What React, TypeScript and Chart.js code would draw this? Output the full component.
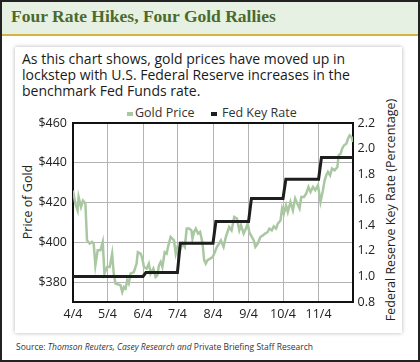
import React, { useEffect, useRef } from 'react';
import { Chart, registerables } from 'chart.js';
Chart.register(...registerables);

const xTickDays = [0, 30, 61, 91, 122, 153, 183, 214, 244];
const xTickLabels = ['4/4', '5/4', '6/4', '7/4', '8/4', '9/4', '10/4', '11/4', ''];
const goldTicks = [380, 400, 420, 440, 460];
const rateTicks = [0.8, 1.0, 1.2, 1.4, 1.6, 1.8, 2.0, 2.2];
// monthly Fed key rate, one value per month between consecutive x ticks
const rateValues = [1.0, 1.0, 1.03, 1.26, 1.43, 1.61, 1.76, 1.93];

const goldDays = [0, 2, 4, 4.9, 7, 8.7, 10.8, 12.2, 14.5, 16.6, 18, 19.5, 21.5, 23.9, 25.9, 27.4, 29.7, 32, 34.1, 35.5, 37, 41.4, 42.9, 44.3, 45.8, 47.2, 48.6, 50.1, 53, 55.4, 56.5, 58.9, 60.4, 61.8, 64.1, 66.1, 67.6, 70, 72, 73.5, 74.9, 76.4, 77.9, 79.9, 81.6, 82.8, 85.1, 88, 89.5, 91, 93.3, 95.4, 97.4, 99.1, 101.1, 103.2, 104.1, 105.5, 107, 109, 110.8, 112.9, 114.3, 115.7, 117.2, 119.5, 121.6, 123, 125.4, 127.4, 128.9, 131.2, 133.2, 136.1, 138.2, 140.5, 142.9, 144.9, 146.4, 148.7, 150.7, 152.2, 153.6, 155.1, 157.5, 158.9, 161, 163.3, 165.4, 167.4, 169.7, 171.1, 173.2, 175, 177, 178.5, 180.8, 182.2, 183.7, 185.7, 187.2, 189.5, 191.6, 193.6, 195.4, 197.4, 198.9, 201.2, 203.2, 205.2, 207, 209.1, 211.1, 213.5, 215.7, 217.8, 219.3, 220.7, 222.2, 224, 225.7, 228, 230.4, 231.5, 233.3, 234.5, 236.2, 238.2, 239.7, 241.1, 242.6, 244];
const goldPrices = [426, 419.5, 416, 422.8, 417.8, 421, 419.5, 401, 399.4, 400.2, 399.4, 388.4, 396, 396, 400.2, 384.3, 387.6, 387.6, 394.3, 384.3, 379.3, 378.4, 375, 377.5, 376.7, 380.9, 379.3, 384.3, 385, 389.3, 395, 394.3, 391.8, 387.6, 386.8, 389.3, 384.3, 386.8, 382.6, 383.4, 388.4, 390.1, 387.6, 395, 394.3, 397.7, 402.7, 401, 394.3, 397.7, 396, 399.4, 397.7, 406.9, 406.9, 406, 401.9, 405.2, 406.9, 404.4, 405.2, 399.4, 391, 389.3, 391, 391.8, 392.6, 394.3, 397.7, 399.4, 401, 397.7, 402.7, 407.7, 406, 412.7, 411.9, 406, 408.6, 404.4, 406.9, 409.4, 405.2, 403.5, 401, 397.7, 399.4, 402.7, 403.5, 404.4, 405.2, 406.9, 406, 408, 406.9, 409.4, 411, 417, 414.4, 418.6, 415.2, 420.3, 416.1, 422, 419.5, 417, 422.8, 422.8, 424.5, 427.8, 425.3, 427.8, 426.2, 428.7, 420.3, 426.2, 431.2, 433.7, 435.4, 433.7, 437.1, 436.2, 437.9, 443.8, 444.6, 447.1, 448.8, 449.6, 452.2, 453.8, 453, 450.5];

const GOLD = '#a9c8a1';
const RATE = '#1e1e1e';
const FONT = "'Open Sans', sans-serif";

const framePlugin = {
  id: 'frame',
  beforeDatasetsDraw(chart: any) {
    const { ctx, chartArea } = chart;
    ctx.save();
    ctx.strokeStyle = '#111';
    ctx.lineWidth = 2;
    ctx.strokeRect(chartArea.left, chartArea.top, chartArea.right - chartArea.left, chartArea.bottom - chartArea.top);
    ctx.restore();
  },
};

function GoldChart() {
  const ref = useRef<HTMLCanvasElement | null>(null);
  useEffect(() => {
    if (!ref.current) return;
    const goldData = goldDays.map((d, i) => ({ x: d, y: goldPrices[i] }));
    const rateData = rateValues.flatMap((v, i) => [
      { x: i === 0 ? xTickDays[0] : xTickDays[i] + 2.5, y: v },
      { x: xTickDays[i + 1], y: v },
    ]);
    const tickFont = { family: FONT, size: 12.5 };
    const chart = new Chart(ref.current, {
      type: 'line',
      data: {
        datasets: [
          { label: 'Gold Price', data: goldData, yAxisID: 'y', borderColor: GOLD, backgroundColor: GOLD, borderWidth: 2.5, pointRadius: 0, tension: 0, order: 1 },
          { label: 'Fed Key Rate', data: rateData, yAxisID: 'y1', borderColor: RATE, backgroundColor: RATE, borderWidth: 3, pointRadius: 0, tension: 0, order: 0 },
        ],
      },
      options: {
        animation: false,
        responsive: false,
        devicePixelRatio: 1,
        layout: { padding: { top: 23, left: 0, right: 0, bottom: 0 } },
        plugins: { legend: { display: false }, tooltip: { enabled: false } },
        scales: {
          x: {
            type: 'linear',
            min: xTickDays[0],
            max: xTickDays[xTickDays.length - 1],
            afterBuildTicks: (s: any) => { s.ticks = xTickDays.map((v) => ({ value: v })); },
            afterFit: (s: any) => { s.height = 28; },
            ticks: {
              autoSkip: false,
              maxRotation: 0,
              padding: 5,
              color: '#222',
              font: tickFont,
              callback: (v: any) => xTickLabels[xTickDays.indexOf(Number(v))] ?? '',
            },
            grid: { color: '#b3b3b3', lineWidth: 1, drawTicks: false },
            border: { display: false },
          },
          y: {
            type: 'linear',
            position: 'left',
            min: 370,
            max: 460,
            afterBuildTicks: (s: any) => { s.ticks = goldTicks.map((v) => ({ value: v })); },
            afterFit: (s: any) => { s.width = 58; },
            ticks: { padding: 6, color: '#222', font: tickFont, callback: (v: any) => '$' + v },
            grid: { color: '#b3b3b3', lineWidth: 1, drawTicks: false },
            border: { display: false },
          },
          y1: {
            type: 'linear',
            position: 'right',
            min: 0.8,
            max: 2.2,
            afterBuildTicks: (s: any) => { s.ticks = rateTicks.map((v) => ({ value: v })); },
            afterFit: (s: any) => { s.width = 50; },
            ticks: { padding: 4.5, color: '#222', font: tickFont, callback: (v: any) => Number(v).toFixed(1) },
            grid: { display: false, drawTicks: false },
            border: { display: false },
          },
        },
      },
      plugins: [framePlugin],
    });
    return () => chart.destroy();
  }, []);
  return <canvas ref={ref} width={388} height={230} style={{ position: 'absolute', left: 15, top: 100, width: 388, height: 230 }} />;
}

export default function App() {
  const abs = (o: any) => ({ position: 'absolute' as const, ...o });
  return (
    <div style={abs({ left: 0, top: 0, width: 420, height: 362, background: '#fff', overflow: 'hidden', fontFamily: FONT })}>
      <div style={abs({ left: 0, top: 0, width: 420, height: 34, background: '#e6f1e3' })} />
      <div style={abs({ left: 0, top: 34, width: 420, height: 2, background: '#d6b441' })} />
      <div style={abs({ left: 11, top: 6, fontFamily: "'Liberation Serif', serif", fontWeight: 700, fontSize: 17.5, lineHeight: '20px', color: '#4b6a2c', whiteSpace: 'nowrap' })}>
        Four Rate Hikes, Four Gold Rallies
      </div>
      <div style={abs({ left: 15, top: 47, width: 387, height: 286, background: '#fff', boxShadow: '0 0 4px rgba(0,0,0,0.3)' })} />
      <div style={abs({ left: 22, top: 50.6, fontSize: 14, lineHeight: '16px', color: '#1a1a1a', whiteSpace: 'nowrap' })}>
        As this chart shows, gold prices have moved up in<br />
        lockstep with U.S. Federal Reserve increases in the<br />
        benchmark Fed Funds rate.
      </div>
      <div style={abs({ left: 127, top: 112, width: 6, height: 4, background: GOLD })} />
      <div style={abs({ left: 135, top: 104, fontSize: 12.5, lineHeight: '18px', color: '#333', whiteSpace: 'nowrap' })}>Gold Price</div>
      <div style={abs({ left: 211, top: 112, width: 6, height: 4, background: RATE })} />
      <div style={abs({ left: 222, top: 104, fontSize: 12.5, lineHeight: '18px', color: '#333', whiteSpace: 'nowrap' })}>Fed Key Rate</div>
      <div style={abs({ left: 27.5, top: 201.5, fontSize: 12.5, lineHeight: '16px', color: '#222', whiteSpace: 'nowrap', transform: 'translate(-50%,-50%) rotate(-90deg)' })}>Price of Gold</div>
      <div style={abs({ left: 390.8, top: 210, fontSize: 12.5, lineHeight: '16px', color: '#222', whiteSpace: 'nowrap', transform: 'translate(-50%,-50%) rotate(-90deg)' })}>Federal Reserve Key Rate (Percentage)</div>
      <GoldChart />
      <div style={abs({ left: 16, top: 341, fontSize: 8.5, lineHeight: '12px', color: '#333', whiteSpace: 'nowrap' })}>
        Source: <i>Thomson Reuters, Casey Research and</i> Private Briefing Staff Research
      </div>
      <div style={abs({ left: 0, top: 0, width: 420, height: 362, boxSizing: 'border-box', border: '2px solid #222', pointerEvents: 'none' })} />
    </div>
  );
}
